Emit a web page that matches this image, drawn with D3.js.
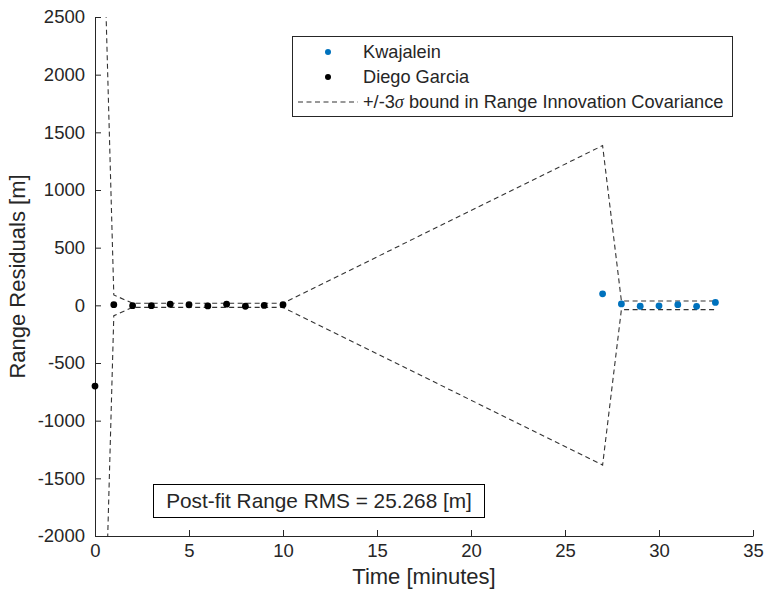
<!DOCTYPE html>
<html><head><meta charset="utf-8">
<script src="https://cdn.jsdelivr.net/npm/d3@7"></script>
<style>body{margin:0;background:#fff;} text{font-family:"Liberation Sans",Arial,sans-serif;fill:#262626;}</style>
</head><body>
<svg id="c" width="766" height="599"></svg>
<script>
// Data
const kwajTime = [27, 28, 29, 30, 31, 32, 33];
const kwajResid = [100, 12, -8, -4, 6, -9, 25];
const diegoTime = [0, 1, 2, 3, 4, 5, 6, 7, 8, 9, 10];
const diegoResid = [-700, 6, -3, -3, 10, 5, -5, 10, -8, -1, 5];
const boundTime = [0, 1, 2, 3, 4, 5, 6, 7, 8, 9, 10, 27, 28, 29, 30, 31, 32, 33];
const boundSigma3 = [6000, 90, 18, 18, 18, 18, 18, 18, 18, 18, 18, 1385, 37, 37, 37, 37, 37, 37];
const xTicks = [0, 5, 10, 15, 20, 25, 30, 35];
const yTicks = [-2000, -1500, -1000, -500, 0, 500, 1000, 1500, 2000, 2500];
const legendLabels = ["Kwajalein", "Diego Garcia", "bound"];
const rmsText = "Post-fit Range RMS = 25.268 [m]";

const svg = d3.select("#c");
const L = 95, R = 753, T = 17, B = 536;
const x = d3.scaleLinear().domain([0, 35]).range([L, R]);
const y = d3.scaleLinear().domain([-2000, 2500]).range([B, T]);

svg.append("defs").append("clipPath").attr("id", "clip")
  .append("rect").attr("x", L).attr("y", T).attr("width", R - L).attr("height", B - T);

const axisColor = "#262626";
const fmt = d => String(d);
// axes
const gx = svg.append("g").attr("transform", `translate(0,${B})`)
  .call(d3.axisBottom(x).tickValues(xTicks).tickFormat(fmt).tickSizeInner(-6).tickSizeOuter(0).tickPadding(8));
const gy = svg.append("g").attr("transform", `translate(${L},0)`)
  .call(d3.axisLeft(y).tickValues(yTicks).tickFormat(fmt).tickSizeInner(-6).tickSizeOuter(0).tickPadding(10));
[gx, gy].forEach(g => {
  g.select(".domain").attr("stroke", axisColor).attr("stroke-width", 1);
  g.selectAll(".tick line").attr("stroke", axisColor);
  g.selectAll(".tick text").attr("font-size", 18.5).attr("fill", axisColor)
    .style("font-family", '"Liberation Sans",Arial,sans-serif');
});
gx.selectAll(".tick text").attr("dy", "0.71em");

// axis labels
svg.append("text").attr("x", (L + R) / 2).attr("y", 584).attr("text-anchor", "middle")
  .attr("font-size", 22).text("Time [minutes]");
svg.append("text").attr("transform", `translate(25,${(T + B) / 2}) rotate(-90)`)
  .attr("text-anchor", "middle").attr("font-size", 22).text("Range Residuals [m]");

const plot = svg.append("g").attr("clip-path", "url(#clip)");
const bound = boundTime.map((t, i) => ({t, s: boundSigma3[i]}));
const line = sign => d3.line().x(d => x(d.t)).y(d => y(sign * d.s));
[1, -1].forEach(sg => {
  plot.append("path").datum(bound).attr("d", line(sg))
    .attr("fill", "none").attr("stroke", "#333").attr("stroke-width", 1.1)
    .attr("stroke-dasharray", "5,3.5");
});

svg.append("g").selectAll("circle").data(kwajTime).join("circle")
  .attr("cx", d => x(d)).attr("cy", (d, i) => y(kwajResid[i])).attr("r", 3.4).attr("fill", "#0072BD");
svg.append("g").selectAll("circle").data(diegoTime).join("circle")
  .attr("cx", d => x(d)).attr("cy", (d, i) => y(diegoResid[i])).attr("r", 3.4).attr("fill", "#000");

// legend
const lg = svg.append("g");
lg.append("rect").attr("x", 292.5).attr("y", 36.5).attr("width", 440).attr("height", 80)
  .attr("fill", "#fff").attr("stroke", axisColor).attr("stroke-width", 1);
lg.append("circle").attr("cx", 328).attr("cy", 52).attr("r", 3).attr("fill", "#0072BD");
lg.append("text").attr("x", 363).attr("y", 52).attr("dy", "0.35em").attr("font-size", 18.2).text(legendLabels[0]);
lg.append("circle").attr("cx", 328).attr("cy", 77).attr("r", 3).attr("fill", "#000");
lg.append("text").attr("x", 363).attr("y", 77).attr("dy", "0.35em").attr("font-size", 18.2).text(legendLabels[1]);
lg.append("line").attr("x1", 298).attr("x2", 358).attr("y1", 102).attr("y2", 102)
  .attr("stroke", "#333").attr("stroke-width", 1.1).attr("stroke-dasharray", "5,3.5");
const t3 = lg.append("text").attr("x", 363).attr("y", 102).attr("dy", "0.35em").attr("font-size", 18.2);
t3.append("tspan").text("+/-3");
t3.append("tspan").attr("font-style", "italic").style("font-family", '"Liberation Serif","Times New Roman",serif').text("σ");
t3.append("tspan").text(" bound in Range Innovation Covariance");

// RMS box
svg.append("rect").attr("x", 153.5).attr("y", 484.5).attr("width", 331).attr("height", 33)
  .attr("fill", "#fff").attr("stroke", "#000").attr("stroke-width", 1);
svg.append("text").attr("x", 319).attr("y", 501).attr("dy", "0.35em").attr("text-anchor", "middle")
  .attr("font-size", 20.8).attr("fill", "#000").text(rmsText);
</script>
</body></html>
